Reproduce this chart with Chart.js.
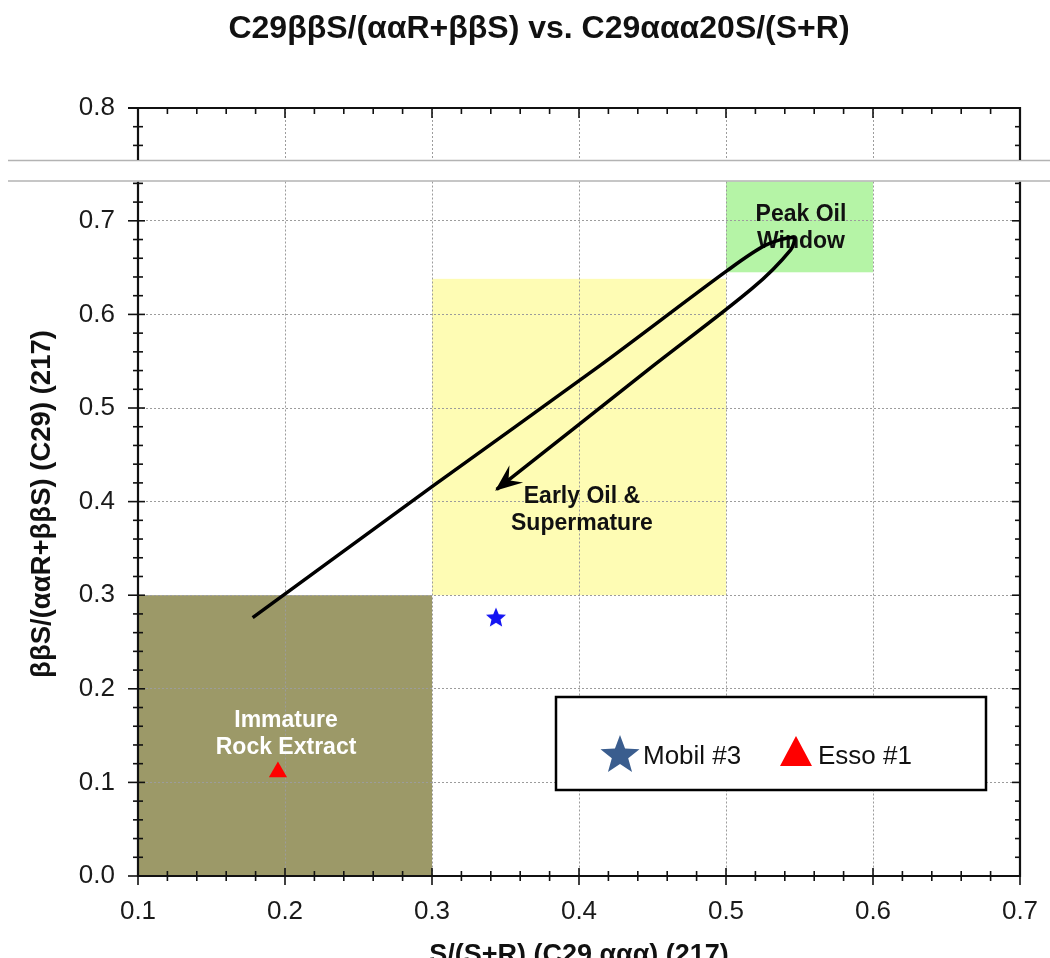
<!DOCTYPE html>
<html>
<head>
<meta charset="utf-8">
<title>C29ββS/(ααR+ββS) vs. C29ααα20S/(S+R)</title>
<script src="https://cdn.jsdelivr.net/npm/chart.js@4.4.1/dist/chart.umd.min.js"></script>
<style>
  html, body { margin: 0; padding: 0; background: #ffffff; }
  #wrap { position: relative; width: 1050px; height: 958px; overflow: hidden; }
  #main, #upper { position: absolute; left: 0; top: 0; }
</style>
</head>
<body>
<div id="wrap">
  <canvas id="main" width="1050" height="958"></canvas>
  <canvas id="upper" width="1050" height="160"></canvas>
</div>
<script>
// ---------- data ----------
const chartTitle = 'C29ββS/(ααR+ββS) vs. C29ααα20S/(S+R)';
const xAxisTitle = 'S/(S+R) (C29 ααα) (217)';
const yAxisTitle = 'ββS/(ααR+ββS) (C29) (217)';

const xTickValues = [0.1, 0.2, 0.3, 0.4, 0.5, 0.6, 0.7];
const yTickValues = [0.0, 0.1, 0.2, 0.3, 0.4, 0.5, 0.6, 0.7];
const yTickValuesUpper = [0.8];

const seriesNames = ['Mobil #3', 'Esso #1'];
const mobilX = [0.3435];
const mobilY = [0.2767];
const essoX = [0.1952];
const essoY = [0.111];

// maturity zones
const zoneLabels = [['Immature', 'Rock Extract'], ['Early Oil &', 'Supermature'], ['Peak Oil', 'Window']];
const zoneXFrom = [0.1, 0.3, 0.5];
const zoneXTo   = [0.3, 0.5, 0.6];
const zoneYFrom = [0.0, 0.3, 0.645];
const zoneYTo   = [0.3, 0.638, 0.8];

// maturation path (up to peak oil, then back down)
const pathX = [0.178, 0.300, 0.414, 0.501, 0.527, 0.546, 0.544, 0.518, 0.448, 0.344];
const pathY = [0.276, 0.416, 0.545, 0.647, 0.674, 0.682, 0.669, 0.628, 0.542, 0.413];

// ---------- style ----------
const FONT = "'Liberation Sans', Arial, Helvetica, sans-serif";
const INK = '#111111';
const GRID = '#9c9c9c';
const ZONE_FILL = ['#9c9968', '#fefcb4', '#b5f4a6'];
const ZONE_TEXT = ['#ffffff', '#111111', '#111111'];
const ZONE_LABEL_AT = [{ x: 0.2007, y: 0.152 }, { x: 0.402, y: 0.391 }, { x: 0.551, y: 0.692 }];
const MINOR = 0.02;

Chart.defaults.font.family = FONT;
Chart.defaults.color = INK;

function minorValues(min, max) {
  const out = [];
  for (let k = Math.ceil(min / MINOR - 1e-6); k * MINOR <= max + 1e-9; k++) out.push(+(k * MINOR).toFixed(2));
  return out;
}
const isMajor = v => Math.abs(v * 10 - Math.round(v * 10)) < 1e-6;

function seg(ctx, x1, y1, x2, y2) {
  ctx.beginPath(); ctx.moveTo(x1, y1); ctx.lineTo(x2, y2); ctx.stroke();
}

function starPath(ctx, cx, cy, R, ratio) {
  ctx.beginPath();
  for (let i = 0; i < 10; i++) {
    const r = i % 2 ? R * ratio : R;
    const ang = -Math.PI / 2 + i * Math.PI / 5;
    ctx.lineTo(cx + r * Math.cos(ang), cy + r * Math.sin(ang));
  }
  ctx.closePath();
}

// five-point star used as a point style
const starImg = document.createElement('canvas');
starImg.width = 24; starImg.height = 24;
(function () {
  const c = starImg.getContext('2d');
  starPath(c, 12, 13, 10.5, 0.45);
  c.fillStyle = '#1414f2';
  c.fill();
})();

// ---------- main (lower) chart ----------
const mainDecor = {
  id: 'mainDecor',
  beforeDraw(chart) {
    const { ctx, chartArea: a, scales: { x, y } } = chart;
    ctx.save();
    ctx.fillStyle = '#ffffff';
    ctx.fillRect(0, 0, chart.width, chart.height);
    ctx.beginPath();
    ctx.rect(a.left, a.top, a.right - a.left, a.bottom - a.top);
    ctx.clip();
    zoneXFrom.forEach((x0, i) => {
      const L = x.getPixelForValue(x0), R = x.getPixelForValue(zoneXTo[i]);
      const T = y.getPixelForValue(zoneYTo[i]), B = y.getPixelForValue(zoneYFrom[i]);
      ctx.fillStyle = ZONE_FILL[i];
      ctx.fillRect(L, T, R - L, B - T);
    });
    ctx.restore();
  },
  beforeDatasetsDraw(chart) {
    const { ctx, scales: { x, y } } = chart;
    ctx.save();
    ctx.font = 'bold 23px ' + FONT;
    ctx.textAlign = 'center';
    ctx.textBaseline = 'middle';
    zoneLabels.forEach((lines, i) => {
      const cx = x.getPixelForValue(ZONE_LABEL_AT[i].x);
      const cy = y.getPixelForValue(ZONE_LABEL_AT[i].y);
      ctx.fillStyle = ZONE_TEXT[i];
      lines.forEach((t, k) => ctx.fillText(t, cx, cy + (k - (lines.length - 1) / 2) * 27));
    });
    ctx.restore();
  },
  afterDatasetsDraw(chart) {
    const { ctx, chartArea: a, scales: { x, y } } = chart;
    ctx.save();

    // arrow head at the end of the maturation path
    const pts = chart.getDatasetMeta(0).data;
    const tip = pts[pts.length - 1], prev = pts[pts.length - 2];
    let dx = tip.x - prev.x, dy = tip.y - prev.y;
    const len = Math.hypot(dx, dy); dx /= len; dy /= len;
    const nx = -dy, ny = dx;
    const tx = tip.x + dx * 2, ty = tip.y + dy * 2;
    ctx.beginPath();
    ctx.moveTo(tx, ty);
    ctx.lineTo(tx - dx * 27 + nx * 11, ty - dy * 27 + ny * 11);
    ctx.lineTo(tx - dx * 17, ty - dy * 17);
    ctx.lineTo(tx - dx * 27 - nx * 11, ty - dy * 27 - ny * 11);
    ctx.closePath();
    ctx.fillStyle = '#000';
    ctx.fill();

    // tick marks
    ctx.strokeStyle = INK;
    ctx.lineWidth = 1.6;
    minorValues(y.min, y.max).forEach(v => {
      const py = y.getPixelForValue(v), m = isMajor(v);
      seg(ctx, a.left - (m ? 10 : 5), py, a.left + (m ? 7 : 5), py);
      seg(ctx, a.right - (m ? 8 : 5), py, a.right, py);
    });
    minorValues(x.min, x.max).forEach(v => {
      const px = x.getPixelForValue(v), m = isMajor(v);
      seg(ctx, px, a.bottom - (m ? 8 : 5), px, a.bottom + (m ? 9 : 5));
    });

    // axis frame
    ctx.lineWidth = 2.2;
    seg(ctx, a.left, a.top, a.left, a.bottom + 1);
    seg(ctx, a.left - 1, a.bottom, a.right + 1, a.bottom);
    seg(ctx, a.right, a.top, a.right, a.bottom + 1);

    // axis break
    ctx.strokeStyle = '#b3b3b3';
    ctx.lineWidth = 1.5;
    seg(ctx, 8, 160.5, chart.width, 160.5);
    seg(ctx, 8, 181, chart.width, 181);

    // legend
    const lx = 556, ly = 697, lw = 430, lh = 93;
    ctx.fillStyle = '#ffffff';
    ctx.fillRect(lx, ly, lw, lh);
    ctx.strokeStyle = '#000';
    ctx.lineWidth = 2.5;
    ctx.strokeRect(lx, ly, lw, lh);
    starPath(ctx, 620, 755.5, 20.5, 0.42);
    ctx.fillStyle = '#3a5d8e';
    ctx.fill();
    ctx.beginPath();
    ctx.moveTo(796, 736); ctx.lineTo(812, 766); ctx.lineTo(780, 766); ctx.closePath();
    ctx.fillStyle = '#ff0000';
    ctx.fill();
    ctx.fillStyle = INK;
    ctx.font = '26px ' + FONT;
    ctx.textAlign = 'left';
    ctx.textBaseline = 'alphabetic';
    ctx.fillText(seriesNames[0], 643, 764);
    ctx.fillText(seriesNames[1], 818, 764);

    // axis titles
    ctx.font = 'bold 27px ' + FONT;
    ctx.textAlign = 'center';
    ctx.fillText(xAxisTitle, (a.left + a.right) / 2, 963);
    ctx.translate(42, 504);
    ctx.rotate(-Math.PI / 2);
    ctx.textBaseline = 'middle';
    ctx.font = 'bold 27.5px ' + FONT;
    ctx.fillText(yAxisTitle, 0, 0);
    ctx.restore();
  }
};

new Chart(document.getElementById('main'), {
  type: 'scatter',
  data: {
    datasets: [
      {
        label: 'path',
        data: pathX.map((v, i) => ({ x: v, y: pathY[i] })),
        showLine: true,
        borderColor: '#000000',
        borderWidth: 3.5,
        pointRadius: 0,
        tension: 0.3,
        fill: false
      },
      {
        label: seriesNames[0],
        data: mobilX.map((v, i) => ({ x: v, y: mobilY[i] })),
        pointStyle: starImg,
        pointRadius: 10,
        backgroundColor: '#1414f2',
        borderColor: '#1414f2'
      },
      {
        label: seriesNames[1],
        data: essoX.map((v, i) => ({ x: v, y: essoY[i] })),
        pointStyle: 'triangle',
        pointRadius: 10.5,
        borderWidth: 0,
        backgroundColor: '#ff0000',
        borderColor: '#ff0000'
      }
    ]
  },
  options: {
    responsive: false,
    animation: false,
    events: [],
    layout: { autoPadding: false, padding: { top: 181.5, left: 0, right: 30, bottom: 0 } },
    plugins: { legend: { display: false }, tooltip: { enabled: false }, title: { display: false } },
    scales: {
      x: {
        type: 'linear', min: 0.1, max: 0.7,
        afterBuildTicks: s => { s.ticks = xTickValues.map(v => ({ value: v })); },
        afterFit: s => { s.height = 82; s.paddingLeft = 0; s.paddingRight = 0; },
        ticks: { font: { size: 26 }, color: '#1a1a1a', padding: 20, callback: v => v.toFixed(1) },
        grid: { color: GRID, lineWidth: 1, drawTicks: false },
        border: { display: false, dash: [2, 2] }
      },
      y: {
        type: 'linear', min: 0, max: 0.742,
        afterBuildTicks: s => { s.ticks = yTickValues.map(v => ({ value: v })); },
        afterFit: s => { s.width = 138; s.paddingTop = 0; s.paddingBottom = 0; },
        ticks: { font: { size: 26 }, color: '#1a1a1a', padding: 23, callback: v => v.toFixed(1) },
        grid: { color: GRID, lineWidth: 1, drawTicks: false },
        border: { display: false, dash: [2, 2] }
      }
    }
  },
  plugins: [mainDecor]
});

// ---------- upper strip above the axis break ----------
const upperDecor = {
  id: 'upperDecor',
  afterDraw(chart) {
    const { ctx, chartArea: a, scales: { x, y } } = chart;
    ctx.save();
    ctx.strokeStyle = INK;
    ctx.lineWidth = 1.6;
    minorValues(y.min, y.max).forEach(v => {
      const py = y.getPixelForValue(v), m = isMajor(v);
      if (!m) {
        seg(ctx, a.left - 5, py, a.left + 5, py);
        seg(ctx, a.right - 5, py, a.right, py);
      }
    });
    minorValues(x.min, x.max).forEach(v => {
      const px = x.getPixelForValue(v), m = isMajor(v);
      seg(ctx, px, a.top, px, a.top + (m ? 10 : 6));
    });
    ctx.lineWidth = 2.2;
    seg(ctx, a.left - 10, a.top, a.right + 1, a.top);
    seg(ctx, a.left, a.top - 1, a.left, a.bottom);
    seg(ctx, a.right, a.top - 1, a.right, a.bottom);

    ctx.fillStyle = INK;
    ctx.font = 'bold 32px ' + FONT;
    ctx.textAlign = 'center';
    ctx.textBaseline = 'middle';
    ctx.fillText(chartTitle, 539, 29);
    ctx.restore();
  }
};

new Chart(document.getElementById('upper'), {
  type: 'scatter',
  data: { datasets: [] },
  options: {
    responsive: false,
    animation: false,
    events: [],
    layout: { autoPadding: false, padding: { top: 108, left: 0, right: 30, bottom: 0 } },
    plugins: { legend: { display: false }, tooltip: { enabled: false }, title: { display: false } },
    scales: {
      x: {
        type: 'linear', min: 0.1, max: 0.7,
        afterBuildTicks: s => { s.ticks = xTickValues.map(v => ({ value: v })); },
        afterFit: s => { s.height = 0; s.paddingLeft = 0; s.paddingRight = 0; },
        ticks: { display: false },
        grid: { color: GRID, lineWidth: 1, drawTicks: false },
        border: { display: false, dash: [2, 2] }
      },
      y: {
        type: 'linear', min: 0.7444, max: 0.8,
        afterBuildTicks: s => { s.ticks = yTickValuesUpper.map(v => ({ value: v })); },
        afterFit: s => { s.width = 138; s.paddingTop = 0; s.paddingBottom = 0; },
        ticks: { font: { size: 26 }, color: '#1a1a1a', padding: 23, callback: v => v.toFixed(1) },
        grid: { display: false, drawTicks: false },
        border: { display: false }
      }
    }
  },
  plugins: [upperDecor]
});
</script>
</body>
</html>
